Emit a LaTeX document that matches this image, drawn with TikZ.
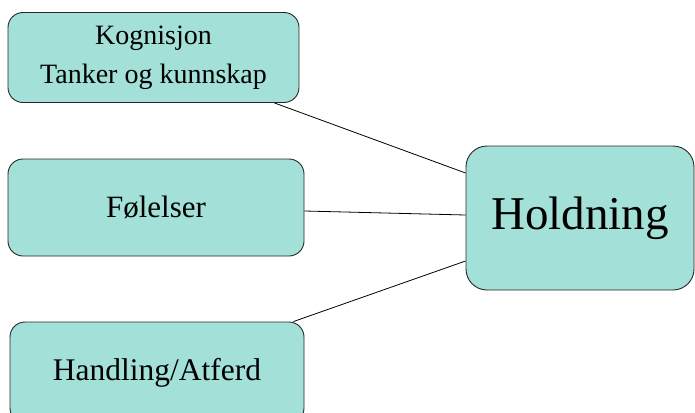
\documentclass[tikz,border=0pt]{standalone}
\usepackage{fontspec}
\setmainfont{Liberation Serif}
\usetikzlibrary{calc}
\definecolor{boxfill}{RGB}{163,224,216}
\definecolor{boxline}{RGB}{40,40,40}
\begin{document}
\begin{tikzpicture}[x=1pt,y=-1pt,
  box/.style={draw=boxline,line width=0.9pt,fill=boxfill,rounded corners=15pt,inner sep=0pt,align=center},
  link/.style={draw=black,line width=0.8pt}]
\clip (0,0) rectangle (695,412);
\fill[white] (0,0) rectangle (695,412);
\node[box,minimum width=291pt,minimum height=90pt,font=\fontsize{28}{39}\selectfont] (kog) at (153.5,57.5) {Kognisjon\\Tanker og kunnskap};
\node[box,minimum width=296pt,minimum height=97pt,font=\fontsize{31}{37}\selectfont] (fel) at (156,207.5) {Følelser};
\node[box,minimum width=294pt,minimum height=101pt,font=\fontsize{31.5}{38}\selectfont] (hand) at (157,372.5) {Handling/Atferd};
\node[box,rounded corners=21pt,minimum width=228pt,minimum height=144pt,font=\fontsize{47}{56}\selectfont] (hold) at (580,218) {Holdning};
\draw[link] ($(kog.south east)+(-25,0)$) -- ($(hold.west)+(0,-45)$);
\draw[link] ($(fel.east)+(0,3.5)$) -- ($(hold.west)+(0,-3)$);
\draw[link] ($(hand.north east)+(-11,0)$) -- ($(hold.west)+(0,43)$);
\end{tikzpicture}
\end{document}
